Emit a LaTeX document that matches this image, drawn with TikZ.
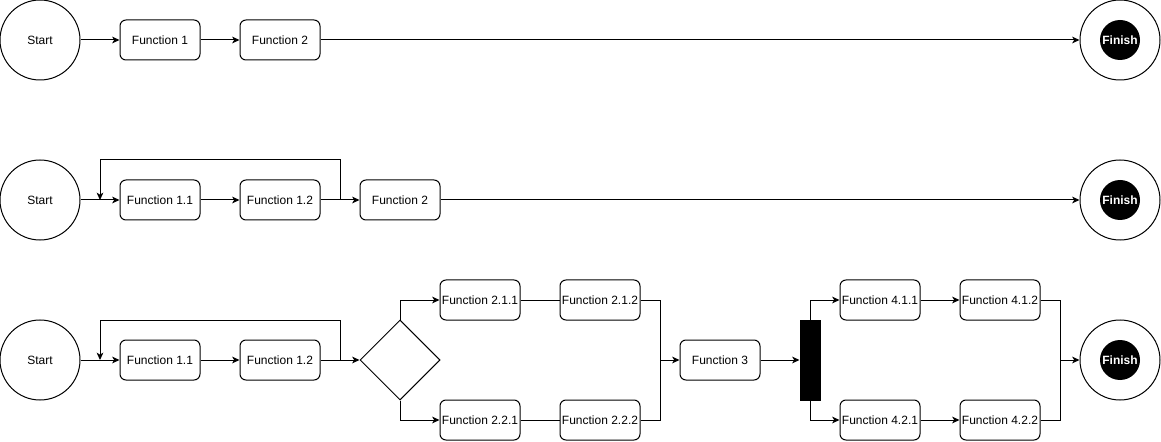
\documentclass[tikz,border=0pt]{standalone}
\usepackage{fontspec}
\setmainfont{Liberation Sans}
\usetikzlibrary{arrows.meta,shapes.geometric}
\begin{document}
\begin{tikzpicture}[x=0.75pt,y=-0.75pt,line width=0.75pt,
  fbox/.style={draw,rounded corners=4.5pt,minimum width=60pt,minimum height=30pt,inner sep=0pt,font=\fontsize{9}{11}\selectfont},
  startc/.style={draw,circle,minimum size=60pt,inner sep=0pt,font=\fontsize{9}{11}\selectfont},
  fin/.style={draw,circle,minimum size=60pt,inner sep=0pt,text=white,font=\fontsize{9}{11}\selectfont\bfseries,
    path picture={\fill[black] (path picture bounding box.center) circle (15pt);}},
  dec/.style={draw,diamond,aspect=1,minimum width=60pt,minimum height=60pt,inner sep=0pt},
  bar/.style={draw,fill=black,minimum width=15pt,minimum height=60pt,inner sep=0pt},
  conn/.style={-{Stealth[length=5.5pt,width=5pt,inset=1.5pt]}},
  line/.style={}
]
\useasboundingbox (0,0) rectangle (1161,442);
% Row 1
\node[startc] (s1) at (40,40) {Start};
\node[fbox] (r1f1) at (160,40) {Function 1};
\node[fbox] (r1f2) at (280,40) {Function 2};
\node[fin] (e1) at (1120,40) {Finish};
\draw[conn] (s1) -- (r1f1);
\draw[conn] (r1f1) -- (r1f2);
\draw[conn] (r1f2) -- (e1);
% Row 2
\node[startc] (s2) at (40,200) {Start};
\node[fbox] (r2a) at (160,200) {Function 1.1};
\node[fbox] (r2b) at (280,200) {Function 1.2};
\node[fbox] (r2c) at (400,200) {Function 2};
\node[fin] (e2) at (1120,200) {Finish};
\coordinate (r2l) at (340,200);
\coordinate (r2m) at (100,200);
\draw[conn] (s2) -- (r2a);
\draw[conn] (r2a) -- (r2b);
\draw[conn] (r2b) -- (r2c);
\draw[conn] (r2l) -- ++(0,-40) -| (r2m);
\draw[conn] (r2c) -- (e2);
% Row 3
\node[startc] (s3) at (40,360) {Start};
\node[fbox] (r3a) at (160,360) {Function 1.1};
\node[fbox] (r3b) at (280,360) {Function 1.2};
\node[dec] (d3) at (400,360) {};
\coordinate (r3l) at (340,360);
\coordinate (r3m) at (100,360);
\draw[conn] (s3) -- (r3a);
\draw[conn] (r3a) -- (r3b);
\draw[conn] (r3b) -- (d3);
\draw[conn] (r3l) -- ++(0,-40) -| (r3m);
\node[fbox] (f211) at (480,300) {Function 2.1.1};
\node[fbox] (f212) at (600,300) {Function 2.1.2};
\node[fbox] (f221) at (480,420) {Function 2.2.1};
\node[fbox] (f222) at (600,420) {Function 2.2.2};
\draw[conn] (d3.north) |- (f211.west);
\draw[conn] (d3.south) |- (f221.west);
\draw (f211) -- (f212);
\draw (f221) -- (f222);
\coordinate (j3) at (660,360);
\node[fbox] (f3) at (720,360) {Function 3};
\draw (f212.east) -| (j3);
\draw (f222.east) -| (j3);
\draw[conn] (j3) -- (f3);
\node[bar] (b3) at (810,360) {};
\draw[conn] (f3) -- (b3);
\node[fbox] (f411) at (880,300) {Function 4.1.1};
\node[fbox] (f412) at (1000,300) {Function 4.1.2};
\node[fbox] (f421) at (880,420) {Function 4.2.1};
\node[fbox] (f422) at (1000,420) {Function 4.2.2};
\draw[conn] (b3.north) |- (f411.west);
\draw[conn] (b3.south) |- (f421.west);
\draw[conn] (f411) -- (f412);
\draw[conn] (f421) -- (f422);
\coordinate (j4) at (1060,360);
\node[fin] (e3) at (1120,360) {Finish};
\draw (f412.east) -| (j4);
\draw (f422.east) -| (j4);
\draw[conn] (j4) -- (e3);
\end{tikzpicture}
\end{document}
